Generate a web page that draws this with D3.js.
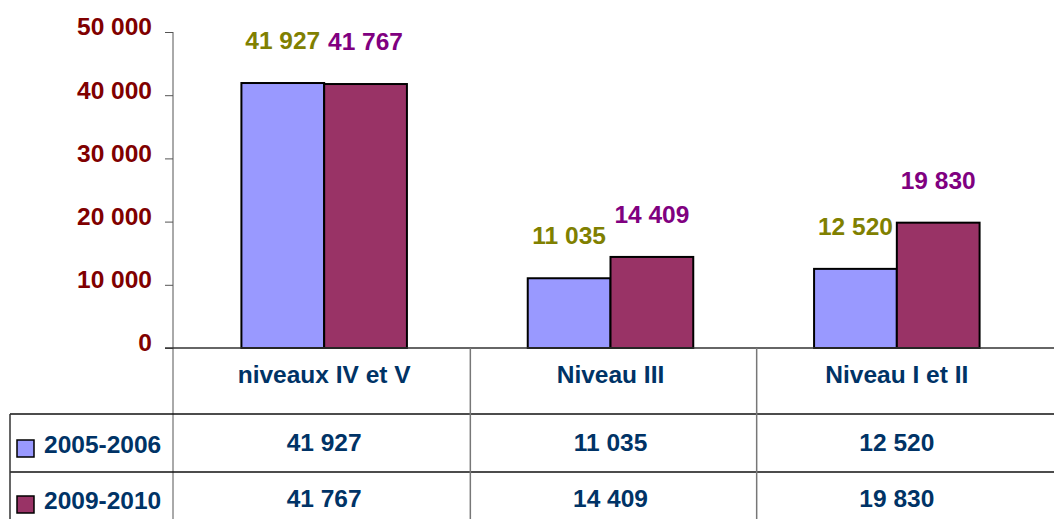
<!DOCTYPE html>
<html>
<head>
<meta charset="utf-8">
<script src="https://cdn.jsdelivr.net/npm/d3@7"></script>
<style>
  html, body { margin: 0; padding: 0; background: #fff; }
  svg { display: block; font-family: 'Liberation Sans', Arial, sans-serif; font-weight: bold; }
</style>
</head>
<body>
<svg id="chart" width="1054" height="519"></svg>
<script>
// data
const categories = ["niveaux IV et V", "Niveau III", "Niveau I et II"];
const series = ["2005-2006", "2009-2010"];
const values2005 = [41927, 11035, 12520];
const values2010 = [41767, 14409, 19830];
const yTicks = [0, 10000, 20000, 30000, 40000, 50000];

const seriesColors = ["#9999ff", "#993366"];
const labelColors = ["#808000", "#800080"];
const tableText = "#003366";

const fmt = v => d3.format(",")(v).replace(/,/g, " ");

const svg = d3.select("#chart");

// layout
const plotLeft = 173, plotRight = 1040;
const plotTop = 32, plotBottom = 348;
const headerBottom = 414, row1Bottom = 472, tableBottom = 540;
const tableLeft = 10;

const y = d3.scaleLinear().domain([0, 50000]).range([plotBottom, plotTop]);
const x0 = d3.scaleBand().domain(categories).range([plotLeft + 8, plotRight]);
const x1 = d3.scaleBand().domain(series).range([0, x0.bandwidth()]).paddingOuter(0.73);

const rows = series.map((s, i) => ({
  name: s,
  values: i === 0 ? values2005 : values2010,
  color: seriesColors[i],
  label: labelColors[i]
}));

// y axis
const yAxis = svg.append("g")
  .attr("transform", `translate(${plotLeft},0)`)
  .call(d3.axisLeft(y).tickValues(yTicks).tickSize(8).tickPadding(13).tickFormat(fmt));
yAxis.select(".domain").attr("stroke", "#555").attr("d", `M0,${plotTop}V${tableBottom}`);
yAxis.selectAll(".tick line").attr("stroke", "#555");
yAxis.selectAll(".tick text")
  .attr("fill", "#800000")
  .attr("font-size", 24.5)
  .attr("font-family", "'Liberation Sans', Arial, sans-serif")
  .attr("font-weight", "bold")
  .attr("dy", "0.32em")
  .attr("y", -5);

// bars
const groups = svg.append("g").selectAll("g")
  .data(categories)
  .join("g")
  .attr("transform", d => `translate(${x0(d)},0)`);

groups.selectAll("rect")
  .data((c, ci) => rows.map(r => ({ key: r.name, value: r.values[ci], color: r.color })))
  .join("rect")
  .attr("x", d => x1(d.key))
  .attr("y", d => y(d.value))
  .attr("width", x1.bandwidth())
  .attr("height", d => y(0) - y(d.value))
  .attr("fill", d => d.color)
  .attr("stroke", "#000")
  .attr("stroke-width", 2);

// data labels
groups.selectAll("text.val")
  .data((c, ci) => rows.map(r => ({ key: r.name, value: r.values[ci], color: r.label })))
  .join("text")
  .attr("class", "val")
  .attr("x", d => x1(d.key) + x1.bandwidth() / 2)
  .attr("y", d => y(d.value) - 34)
  .attr("text-anchor", "middle")
  .attr("font-size", 24.5)
  .attr("fill", d => d.color)
  .text(d => fmt(d.value));

// table lines
const grid = svg.append("g");
grid.append("line")
  .attr("x1", plotLeft - 8).attr("x2", 1054)
  .attr("y1", plotBottom).attr("y2", plotBottom)
  .attr("stroke", "#333").attr("stroke-width", 1.5);
[headerBottom, row1Bottom].forEach(yy => {
  grid.append("line")
    .attr("x1", tableLeft).attr("x2", 1054)
    .attr("y1", yy).attr("y2", yy)
    .attr("stroke", "#111").attr("stroke-width", 1.5);
});
grid.append("line")
  .attr("x1", tableLeft).attr("x2", tableLeft)
  .attr("y1", headerBottom).attr("y2", tableBottom)
  .attr("stroke", "#333").attr("stroke-width", 1.5);
categories.slice(1).forEach(c => {
  grid.append("line")
    .attr("x1", x0(c) + 3).attr("x2", x0(c) + 3)
    .attr("y1", plotBottom).attr("y2", tableBottom)
    .attr("stroke", "#777").attr("stroke-width", 1.5);
});

// header labels
svg.append("g").selectAll("text")
  .data(categories)
  .join("text")
  .attr("x", d => x0(d) + x0.bandwidth() / 2)
  .attr("y", 383)
  .attr("text-anchor", "middle")
  .attr("font-size", 24.5)
  .attr("fill", tableText)
  .text(d => d);

// table rows
const rowBaselines = [451, 507];
rows.forEach((r, i) => {
  const g = svg.append("g");
  g.append("rect")
    .attr("x", 17).attr("y", rowBaselines[i] - 11)
    .attr("width", 17).attr("height", 17)
    .attr("fill", r.color)
    .attr("stroke", "#000").attr("stroke-width", 1.5);
  g.append("text")
    .attr("x", 44).attr("y", rowBaselines[i] + 2)
    .attr("font-size", 24.5)
    .attr("fill", tableText)
    .text(r.name);
  g.selectAll("text.cell")
    .data(categories)
    .join("text")
    .attr("class", "cell")
    .attr("x", c => x0(c) + x0.bandwidth() / 2)
    .attr("y", rowBaselines[i])
    .attr("text-anchor", "middle")
    .attr("font-size", 24.5)
    .attr("fill", tableText)
    .text((c, ci) => fmt(r.values[ci]));
});
</script>
</body>
</html>
